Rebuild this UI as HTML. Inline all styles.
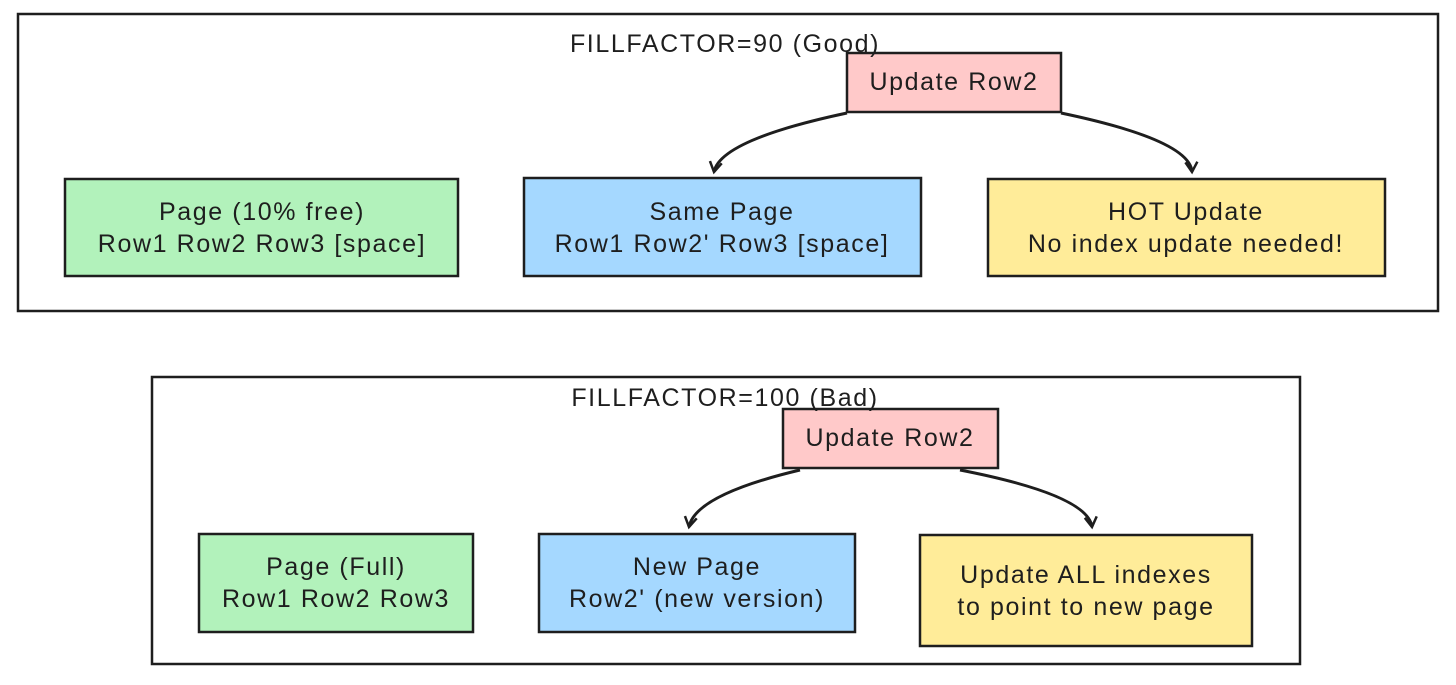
<!DOCTYPE html>
<html><head><style>body{margin:0;background:#fff}svg{display:block}text{font-family:"Liberation Sans",sans-serif;font-size:25px;letter-spacing:1.6px;fill:#1e1e1e;text-anchor:middle}</style></head><body>
<svg width="1456" height="685" viewBox="0 0 1456 685" xmlns="http://www.w3.org/2000/svg">
<defs><marker id="a" markerWidth="16" markerHeight="16" refX="12" refY="8" orient="auto" markerUnits="userSpaceOnUse"><path d="M2,2 L12,8 L2,14" fill="none" stroke="#1e1e1e" stroke-width="2.5"/></marker></defs>
<g stroke="#1e1e1e" stroke-width="2.5">
<rect x="18" y="14" width="1420" height="297" fill="none"/>
<rect x="847" y="53" width="214" height="59" fill="#ffc9c9"/>
<rect x="65" y="179" width="393" height="97" fill="#b2f2bb"/>
<rect x="524" y="178" width="397" height="98" fill="#a5d8ff"/>
<rect x="988" y="179" width="397" height="97" fill="#ffec99"/>
<rect x="152" y="377" width="1148" height="287" fill="none"/>
<rect x="783" y="409" width="215" height="59" fill="#ffc9c9"/>
<rect x="199" y="534" width="274" height="98" fill="#b2f2bb"/>
<rect x="539" y="534" width="316" height="98" fill="#a5d8ff"/>
<rect x="920" y="535" width="332" height="111" fill="#ffec99"/>
</g>
<g fill="none" stroke="#1e1e1e" stroke-width="3">
<path d="M847,113 Q720,140 714,172" marker-end="url(#a)"/>
<path d="M1061,113 Q1190,140 1192,172" marker-end="url(#a)"/>
<path d="M800,470 Q695,495 689,527" marker-end="url(#a)"/>
<path d="M960,470 Q1088,495 1092,527" marker-end="url(#a)"/>
</g>
<text x="725" y="52">FILLFACTOR=90 (Good)</text>
<text x="954" y="90">Update Row2</text>
<text x="262" y="220">Page (10% free)</text>
<text x="262" y="252">Row1 Row2 Row3 [space]</text>
<text x="722" y="220">Same Page</text>
<text x="722" y="252">Row1 Row2' Row3 [space]</text>
<text x="1186" y="220">HOT Update</text>
<text x="1186" y="252">No index update needed!</text>
<text x="725" y="406">FILLFACTOR=100 (Bad)</text>
<text x="890" y="446">Update Row2</text>
<text x="336" y="575">Page (Full)</text>
<text x="336" y="607">Row1 Row2 Row3</text>
<text x="697" y="575">New Page</text>
<text x="697" y="607">Row2' (new version)</text>
<text x="1086" y="583">Update ALL indexes</text>
<text x="1086" y="615">to point to new page</text>
</svg>
</body></html>
